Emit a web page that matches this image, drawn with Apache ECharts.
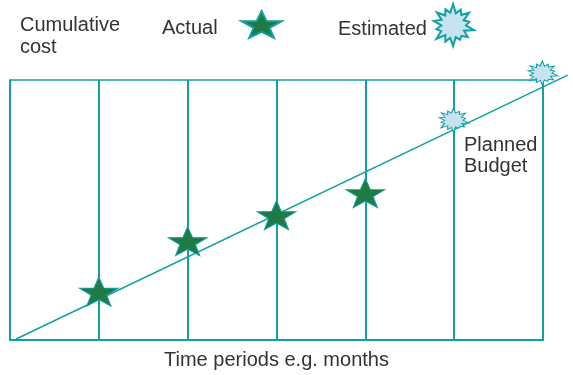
<!DOCTYPE html>
<html>
<head>
<meta charset="utf-8">
<script src="https://cdn.jsdelivr.net/npm/echarts@6/dist/echarts.min.js"></script>
<style>
html,body{margin:0;padding:0;background:#fff;}
#c{width:573px;height:375px;}
</style>
</head>
<body>
<div id="c"></div>
<script>
// ---- data ----
var periods = [0, 1, 2, 3, 4, 5, 6];
var plannedBudget = [[0.07, 0.4], [6.34, 101.9]];
var actualCost = [[1, 18.6], [2, 38], [3, 48], [4, 56.5]];
var estimatedCost = [[5, 84.6], [6, 102.7]];
var yLabel = 'Cumulative\ncost';
var xLabel = 'Time periods e.g. months';
var planLabel = 'Planned\nBudget';

// ---- symbol shapes ----
function starPath() {
  var pts = [];
  for (var i = 0; i < 10; i++) {
    var r = i % 2 === 0 ? 50 : 20;
    var a = -Math.PI / 2 + i * Math.PI / 5;
    pts.push((50 + r * Math.cos(a)).toFixed(2) + ' ' + (50 + r * Math.sin(a)).toFixed(2));
  }
  return 'path://M' + pts.join(' L') + ' Z';
}
function burstPath() {
  var outer = [1, 0.82, 0.95, 0.78, 1, 0.88, 0.74, 0.96, 0.84, 1, 0.8, 0.92, 0.97, 0.83];
  var inner = [0.58, 0.62, 0.55, 0.6, 0.57, 0.63, 0.56, 0.6, 0.58, 0.62, 0.55, 0.6, 0.59, 0.61];
  var n = outer.length, pts = [];
  for (var i = 0; i < n; i++) {
    var a1 = -Math.PI / 2 + i * 2 * Math.PI / n;
    var a2 = a1 + Math.PI / n;
    pts.push((50 + 50 * outer[i] * Math.cos(a1)).toFixed(2) + ' ' + (50 + 50 * outer[i] * Math.sin(a1)).toFixed(2));
    pts.push((50 + 50 * inner[i] * Math.cos(a2)).toFixed(2) + ' ' + (50 + 50 * inner[i] * Math.sin(a2)).toFixed(2));
  }
  return 'path://M' + pts.join(' L') + ' Z';
}
var STAR = starPath();
var BURST = burstPath();

var teal = '#13a0a0';
var textColor = '#333333';
var font = '"Liberation Sans", Arial, Helvetica, sans-serif';

// main plot frame
var G = { left: 10, right: 30, top: 80, bottom: 35 };
var W = 573, H = 375;
var xUnit = (W - G.left - G.right) / (periods[periods.length - 1] - periods[0]);
var yUnit = (H - G.top - G.bottom) / 100;
// wider overlay grid with the same scale, so the budget line can run past the frame
var X2MAX = 6.4, Y2MAX = 104;
var grid2 = { left: G.left, width: X2MAX * xUnit, top: H - G.bottom - Y2MAX * yUnit, height: Y2MAX * yUnit, show: false };

var chart = echarts.init(document.getElementById('c'));
chart.setOption({
  animation: false,
  backgroundColor: '#ffffff',
  title: [
    { text: yLabel, left: 20, top: 14, padding: 0, textStyle: { fontFamily: font, fontSize: 20, fontWeight: 'normal', color: textColor, lineHeight: 22 } },
    { text: planLabel, left: 464, top: 135, padding: 0, textStyle: { fontFamily: font, fontSize: 20, fontWeight: 'normal', color: textColor, lineHeight: 21 } }
  ],
  legend: [
    {
      data: [{ name: 'Actual', icon: STAR }],
      left: 162, top: 10, align: 'right', padding: 0, symbolKeepAspect: false,
      itemWidth: 40, itemHeight: 27,
      formatter: '{t|{name}}',
      textStyle: { fontFamily: font, fontSize: 20, color: textColor,
        rich: { t: { fontFamily: font, fontSize: 20, color: textColor, padding: [8, 19, 0, 0] } } }
    },
    {
      data: [{ name: 'Estimated', icon: BURST }],
      left: 338, top: 3, align: 'right', padding: 0, symbolKeepAspect: false,
      itemWidth: 40, itemHeight: 42,
      formatter: '{t|{name}}',
      textStyle: { fontFamily: font, fontSize: 20, color: textColor,
        rich: { t: { fontFamily: font, fontSize: 20, color: textColor, padding: [8, 2, 0, 0] } } }
    }
  ],
  grid: [
    { left: G.left, right: G.right, top: G.top, bottom: G.bottom, show: true, borderColor: teal, borderWidth: 1.5, backgroundColor: 'transparent' },
    grid2
  ],
  xAxis: [
    {
      type: 'value', gridIndex: 0, min: periods[0], max: periods[periods.length - 1], interval: 1,
      name: xLabel, nameLocation: 'middle', nameGap: 10,
      nameTextStyle: { fontFamily: font, fontSize: 20, color: textColor },
      axisLine: { show: true, lineStyle: { color: teal, width: 2 } },
      axisTick: { show: false }, axisLabel: { show: false },
      splitLine: { show: true, lineStyle: { color: teal, width: 2 } }
    },
    {
      type: 'value', gridIndex: 1, min: 0, max: X2MAX, show: false
    }
  ],
  yAxis: [
    {
      type: 'value', gridIndex: 0, min: 0, max: 100,
      axisLine: { show: true, lineStyle: { color: teal, width: 1.5 } },
      axisTick: { show: false }, axisLabel: { show: false },
      splitLine: { show: false }
    },
    {
      type: 'value', gridIndex: 1, min: 0, max: Y2MAX, show: false
    }
  ],
  series: [
    {
      name: 'Planned Budget', type: 'line', xAxisIndex: 1, yAxisIndex: 1, data: plannedBudget, clip: false,
      showSymbol: false, symbol: 'none',
      lineStyle: { color: teal, width: 1.5 }, z: 2
    },
    {
      name: 'Actual', type: 'scatter', data: actualCost, symbol: STAR, symbolSize: [39, 29],
      itemStyle: { color: '#1e7b45', borderColor: teal, borderWidth: 1, opacity: 1 }, z: 3
    },
    {
      name: 'Estimated', type: 'scatter', data: estimatedCost, symbol: BURST, symbolSize: [30, 24], clip: false,
      itemStyle: { color: '#c6e3ef', borderColor: teal, borderWidth: 1, opacity: 1 }, z: 3
    }
  ]
});
</script>
</body>
</html>
